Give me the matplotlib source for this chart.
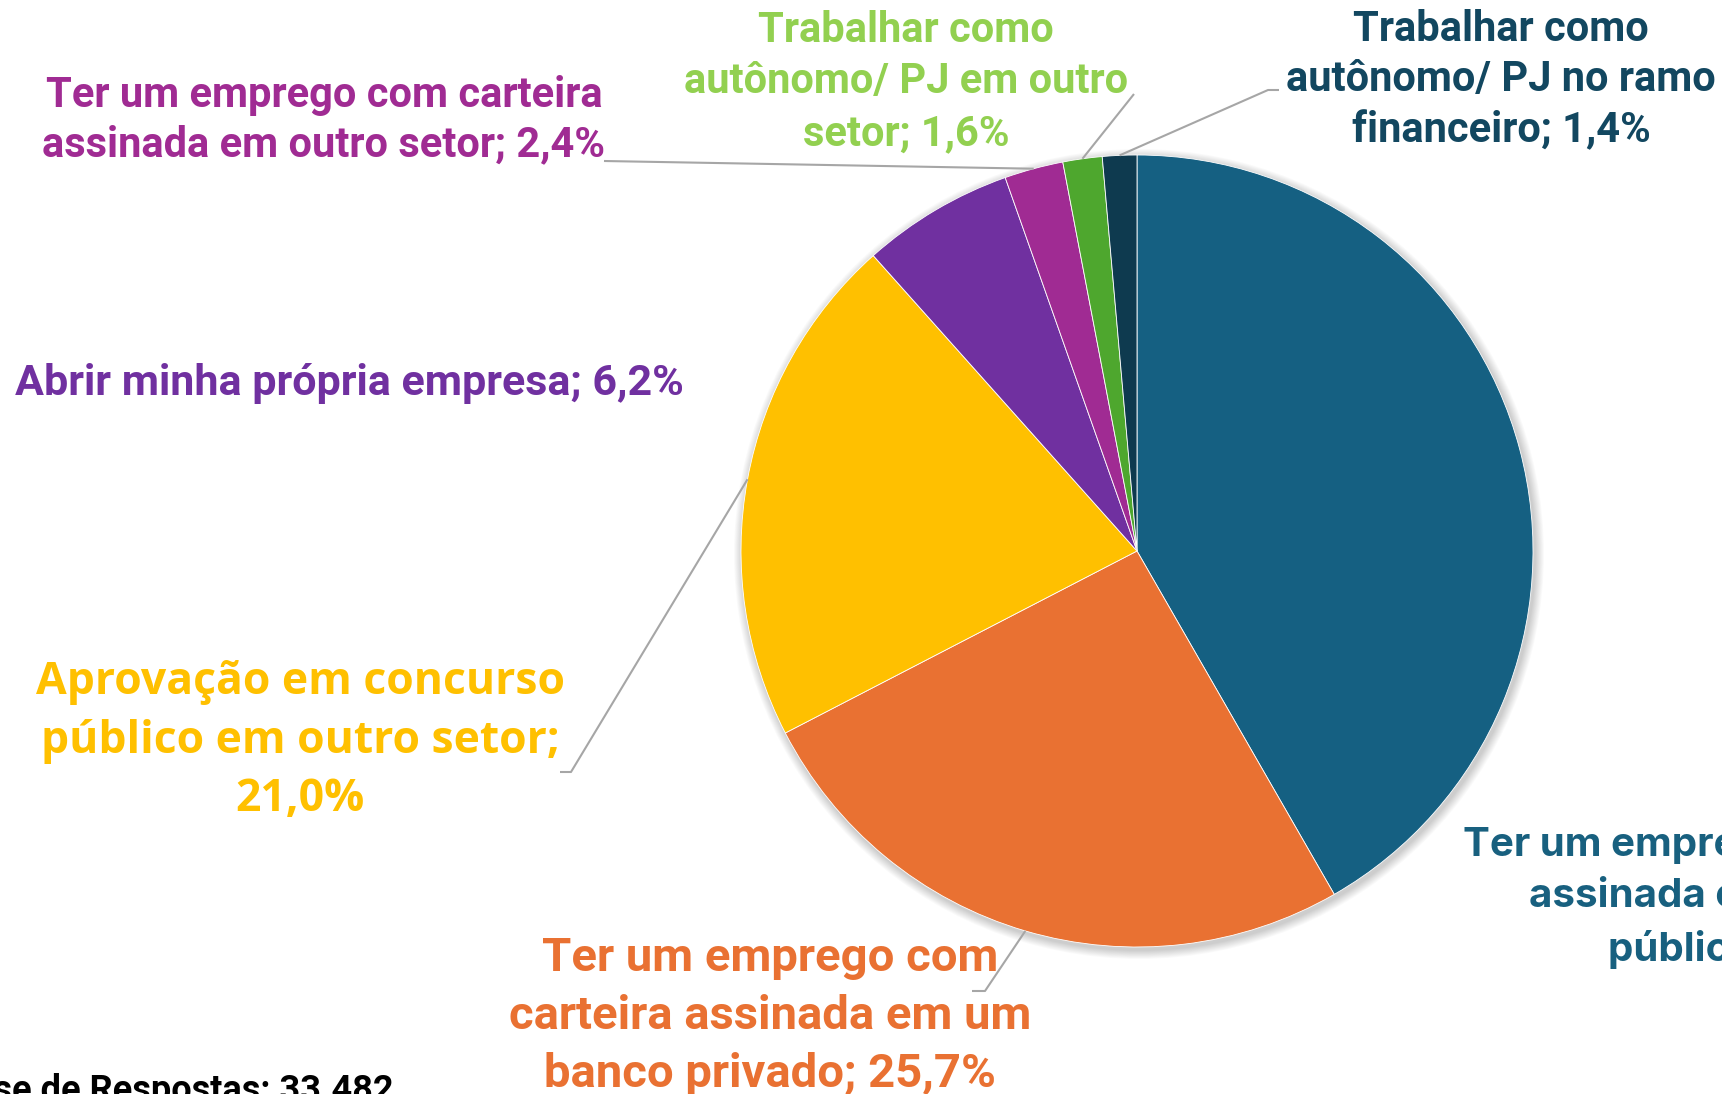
import numpy as np
import matplotlib
matplotlib.use('Agg')
import matplotlib.pyplot as plt
from matplotlib import font_manager as fm
from matplotlib.patches import Circle

# data (clockwise from 12 o'clock)
categorias = ['Ter um emprego com carteira\nassinada em um banco\npúblico',
              'Ter um emprego com\ncarteira assinada em um\nbanco privado',
              'Aprovação em concurso\npúblico em outro setor;\n',
              'Abrir minha própria empresa',
              'Ter um emprego com carteira\nassinada em outro setor',
              'Trabalhar como\nautônomo/ PJ em outro\nsetor',
              'Trabalhar como\nautônomo/ PJ no ramo\nfinanceiro']
valores = [41.7, 25.7, 21.0, 6.2, 2.4, 1.6, 1.4]
cores = ['#156082', '#E97132', '#FFC000', '#7030A0', '#A02B93', '#4EA72E', '#0E3A4F']
cores_texto = ['#18607F', '#E97132', '#FFC000', '#7030A0', '#A02B93', '#92D050', '#124760']
base_respostas = 'Base de Respostas: 33.482'

nomes = {f.name for f in fm.fontManager.ttflist}
estreita = 'Liberation Sans Narrow' if 'Liberation Sans Narrow' in nomes else 'Roboto'

fig = plt.figure(figsize=(17.22, 10.94), dpi=100)
ax = fig.add_axes([0, 0, 1, 1])

cx, cy, r = 1137, 551, 396

# soft shadow around the pie
for k in range(10, 0, -1):
    ax.add_patch(Circle((cx + 2, cy + 3), r + k * 0.9, color='#000000', alpha=0.018, lw=0, zorder=1))

wedges, _ = ax.pie(valores, colors=cores, startangle=-90, counterclock=True,
                   center=(cx, cy), radius=r, frame=True,
                   wedgeprops=dict(edgecolor='white', linewidth=0.6, zorder=2))
ax.set_xlim(0, 1722)
ax.set_ylim(1094, 0)
ax.set_aspect('equal')
ax.axis('off')

# label placement: (x, y, font, size, linespacing)
pos = [(1754, 897, 'Inter', 29, 1.48),
       (770, 1016, estreita, 34, 1.41),
       (300, 741, 'Open Sans', 32, 1.40),
       (349, 383, estreita, 31, 1.2),
       (324, 120, estreita, 30, 1.26),
       (906, 82, estreita, 30, 1.32),
       (1501, 80, estreita, 30, 1.30)]

for i, (x, y, fam, sz, ls) in enumerate(pos):
    if i == 2:
        txt = categorias[i] + ('%.1f' % valores[i]).replace('.', ',') + '%'
    else:
        txt = categorias[i] + '; ' + ('%.1f' % valores[i]).replace('.', ',') + '%'
    ax.text(x, y, txt, ha='center', va='center', multialignment='center',
            fontsize=sz, fontweight='bold', family=fam, color=cores_texto[i],
            linespacing=ls, zorder=5)

# leader lines: label side anchors, pie side from wedge mid-angle
ancoras = {1: [(972, 991), (985, 991)],
           2: [(560, 772), (571, 772)],
           4: [(604, 161)],
           5: [(1134, 94)],
           6: [(1279, 90), (1268, 90)]}
for i, pts in ancoras.items():
    w = wedges[i]
    ang = np.deg2rad((w.theta1 + w.theta2) / 2)
    ex, ey = cx + r * np.cos(ang), cy + r * np.sin(ang)
    xs = [p[0] for p in pts] + [ex]
    ys = [p[1] for p in pts] + [ey]
    ax.plot(xs, ys, color='#A6A6A6', lw=1.5, zorder=3, solid_capstyle='butt')

ax.text(394, 1101, base_respostas, ha='right', va='baseline', fontsize=26,
        fontweight='bold', family='Roboto', color='black', zorder=5)

fig.savefig('out.png', dpi=100)
